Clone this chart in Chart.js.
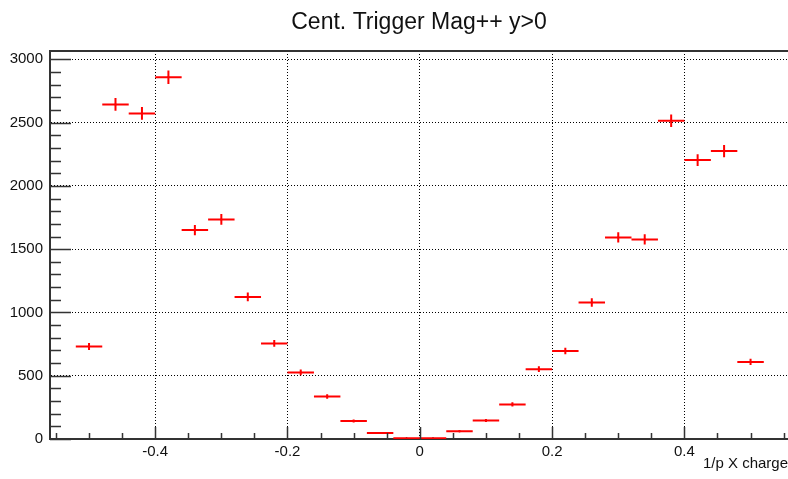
<!DOCTYPE html>
<html>
<head>
<meta charset="utf-8">
<title>Cent. Trigger Mag++ y>0</title>
<script src="https://cdn.jsdelivr.net/npm/chart.js@4.4.1/dist/chart.umd.min.js"></script>
<style>
  html, body { margin: 0; padding: 0; background: #fff; overflow: hidden; }
  canvas { display: block; }
</style>
</head>
<body>
<canvas id="hist" width="788" height="479"></canvas>
<script>
// histogram bins (1/p X charge), entries and their errors
var binCenters = [-0.50, -0.46, -0.42, -0.38, -0.34, -0.30, -0.26, -0.22, -0.18, -0.14, -0.10, -0.06, -0.02,
                   0.02,  0.06,  0.10,  0.14,  0.18,  0.22,  0.26,  0.30,  0.34,  0.38,  0.42,  0.46,  0.50];
var counts = [731, 2644, 2573, 2858, 1651, 1735, 1123, 755, 526, 336, 143, 48, 5,
              5, 62, 146, 273, 552, 696, 1079, 1593, 1577, 2515, 2204, 2275, 609];
var errors = [27, 51, 51, 53, 41, 42, 34, 27, 23, 18, 12, 7, 2,
              2, 8, 12, 17, 23, 26, 33, 40, 40, 50, 47, 48, 25];
var binWidth = 0.04;

var xTickLabels = [-0.4, -0.2, 0, 0.2, 0.4];
var yTickLabels = [0, 500, 1000, 1500, 2000, 2500, 3000];

var titleText = 'Cent. Trigger Mag++ y>0';
var xTitle = '1/p X charge';

Chart.defaults.font.family = '"Liberation Sans", Arial, Helvetica, sans-serif';
Chart.defaults.color = '#111';

// horizontal bars across each bin, vertical bars for the errors
var hSegs = [], vSegs = [], centers = [];
for (var i = 0; i < binCenters.length; i++) {
	var c = binCenters[i], v = counts[i], e = errors[i];
	hSegs.push({x: c - binWidth / 2, y: v}, {x: c + binWidth / 2, y: v}, {x: c, y: null});
	vSegs.push({x: c, y: v - e}, {x: c, y: v + e}, {x: c, y: null});
	centers.push({x: c, y: v});
}

// ROOT style frame: top line, inward major/minor ticks, titles
var rootFrame = {
	id: 'rootFrame',
	afterDraw: function(chart) {
		var ctx = chart.ctx, a = chart.chartArea;
		var xs = chart.scales.x, ys = chart.scales.y;
		ctx.save();
		ctx.strokeStyle = '#333';
		ctx.lineWidth = 2;
		ctx.beginPath();
		ctx.moveTo(a.left, a.top);
		ctx.lineTo(a.right, a.top);
		ctx.stroke();

		ctx.lineWidth = 1.5;
		ctx.beginPath();
		for (var k = -11; k <= 11; k++) {
			var xv = k * 0.05;
			var px = Math.round(xs.getPixelForValue(xv)) + 0.5;
			if (px < a.left || px > a.right) continue;
			var len = (k % 4 === 0) ? 12 : 6;
			ctx.moveTo(px, a.bottom);
			ctx.lineTo(px, a.bottom - len);
		}
		for (var m = 0; m <= 30; m++) {
			var py = Math.round(ys.getPixelForValue(m * 100)) + 0.5;
			if (py < a.top) continue;
			var ylen = (m % 5 === 0) ? 21 : 11;
			ctx.moveTo(a.left, py);
			ctx.lineTo(a.left + ylen, py);
		}
		ctx.stroke();

		ctx.fillStyle = '#111';
		ctx.font = '23px "Liberation Sans", Arial, sans-serif';
		ctx.textAlign = 'center';
		ctx.textBaseline = 'alphabetic';
		ctx.fillText(titleText, 419, 29);

		ctx.font = '15px "Liberation Sans", Arial, sans-serif';
		ctx.textAlign = 'right';
		ctx.fillText(xTitle, 788, 468);
		ctx.restore();
	}
};

new Chart(document.getElementById('hist'), {
	type: 'scatter',
	data: {
		datasets: [
			{
				data: hSegs,
				showLine: true,
				spanGaps: false,
				borderColor: '#ff0000',
				borderWidth: 2,
				pointRadius: 0
			},
			{
				data: vSegs,
				showLine: true,
				spanGaps: false,
				borderColor: '#ff0000',
				borderWidth: 2,
				pointRadius: 0
			},
			{
				data: centers,
				pointRadius: 1,
				pointBackgroundColor: '#000',
				pointBorderWidth: 0
			}
		]
	},
	plugins: [rootFrame],
	options: {
		responsive: false,
		animation: false,
		layout: { autoPadding: false, padding: { top: 51, right: 0, left: 0, bottom: 0 } },
		plugins: {
			legend: { display: false },
			tooltip: { enabled: false },
			title: { display: false }
		},
		scales: {
			x: {
				type: 'linear',
				min: -0.559,
				max: 0.5566,
				afterBuildTicks: function(scale) {
					scale.ticks = xTickLabels.map(function(v) { return {value: v}; });
				},
				afterFit: function(scale) { scale.height = 40; },
				ticks: {
					font: { size: 15 },
					padding: 4,
					maxRotation: 0,
					callback: function(v) { return v === 0 ? '0' : String(v); }
				},
				grid: { color: '#000', lineWidth: 1, drawTicks: false },
				border: { display: true, color: '#333', width: 2, dash: [1, 2] }
			},
			y: {
				min: 0,
				max: 3066,
				afterBuildTicks: function(scale) {
					scale.ticks = yTickLabels.map(function(v) { return {value: v}; });
				},
				afterFit: function(scale) { scale.width = 50; },
				ticks: {
					font: { size: 15 },
					padding: 7,
					callback: function(v) { return String(v); }
				},
				grid: { color: '#000', lineWidth: 1, drawTicks: false },
				border: { display: true, color: '#333', width: 2, dash: [1, 2] }
			}
		}
	}
});
</script>
</body>
</html>
